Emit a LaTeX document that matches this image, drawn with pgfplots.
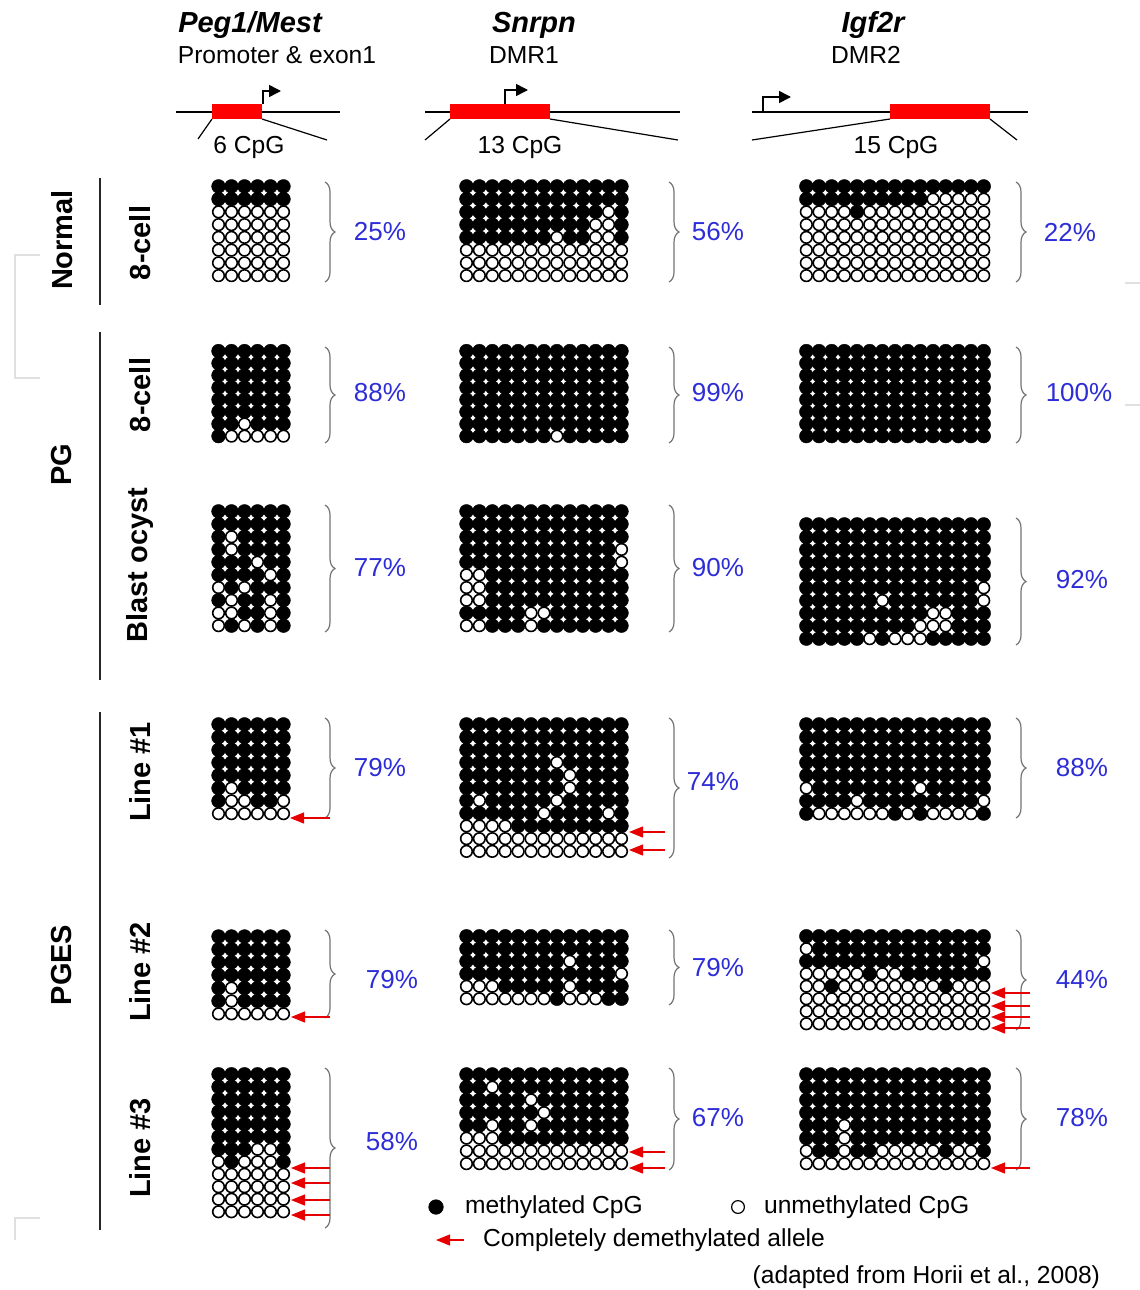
\documentclass[border=0pt]{standalone}
\usepackage{fontspec}
\setmainfont{Liberation Sans}
\usepackage{pgfplots}
\pgfplotsset{compat=1.18}
\usetikzlibrary{decorations.pathreplacing, arrows.meta}

\definecolor{pctblue}{RGB}{45,45,215}
\definecolor{arrred}{RGB}{230,0,0}

\newcount\GR \newcount\GC
\def\R#1{\global\advance\GR by 1 \global\GC=0 \Gbit#1\relax}
\def\Gbit#1{\ifx\relax#1\else\global\advance\GC by 1 \Gcell#1\expandafter\Gbit\fi}
\def\Gcell#1{\pgfmathsetmacro\GXX{\GX+(\the\GC-0.5)*\GH}\pgfmathsetmacro\GYY{\GY+(\the\GR-0.5)*\GV}\if1#1\xdef\methlist{\methlist(\GXX,\GYY)}\else\xdef\unmethlist{\unmethlist(\GXX,\GYY)}\fi}
\newcommand\grid[5]{\def\GX{#1}\def\GY{#2}\def\GH{#3}\def\GV{#4}\global\GR=0 \gdef\methlist{}\gdef\unmethlist{}#5%
  \ifx\methlist\empty\def\tmp{}\else\edef\tmp{\noexpand\addplot[meth] coordinates {\methlist};}\fi\tmp
  \ifx\unmethlist\empty\def\tmp{}\else\edef\tmp{\noexpand\addplot[unmeth] coordinates {\unmethlist};}\fi\tmp}

\pgfplotsset{
 meth/.style={only marks, mark=*, mark size=3.45pt, mark options={draw=black, fill=black, line width=0.2pt, solid}},
 unmeth/.style={only marks, mark=*, mark size=2.9pt, mark options={draw=black, fill=white, line width=0.8pt, solid}},
}
\tikzset{
 br/.style={decorate, decoration={brace, amplitude=5pt}, draw=black!55, line width=0.6pt},
 rarr/.style={draw=arrred, line width=0.6pt, -{Triangle[length=7pt,width=5.5pt]}},
 pct/.style={text=pctblue, font=\fontsize{13}{15}\selectfont},
 lab/.style={rotate=90, font=\fontsize{14.5}{17}\selectfont\bfseries},
 gn/.style={font=\fontsize{14.5}{17}\selectfont\bfseries\itshape},
 sm/.style={font=\fontsize{12.3}{14}\selectfont},
}

\begin{document}
\begin{tikzpicture}
\useasboundingbox (0,0) rectangle (570pt,645pt);
\begin{axis}[at={(0,0)}, anchor=south west, width=570pt, height=645pt, scale only axis,
  xmin=0, xmax=1140, ymin=0, ymax=1290, y dir=reverse, hide axis, clip=false]

% ---------------- Normal 8-cell
\grid{212}{180}{13}{12.75}{\R{111111}\R{111111}\R{000000}\R{000000}\R{000000}\R{000000}\R{000000}\R{000000}}
\grid{460}{180}{12.92}{12.75}{\R{1111111111111}\R{1111111111111}\R{1111111111101}\R{1111111111001}\R{1111111011001}\R{0000000000000}\R{0000000000000}\R{0000000000000}}
\grid{800}{180}{12.67}{12.75}{\R{111111111111111}\R{111111111100000}\R{000010000000000}\R{000000000000000}\R{000000000000000}\R{000000000000000}\R{000000000000000}\R{000000000000000}}
% ---------------- PG 8-cell
\grid{212}{345}{13}{12.15}{\R{111111}\R{111111}\R{111111}\R{111111}\R{111111}\R{111111}\R{110111}\R{100000}}
\grid{460}{345}{12.92}{12.15}{\R{1111111111111}\R{1111111111111}\R{1111111111111}\R{1111111111111}\R{1111111111111}\R{1111111111111}\R{1111111111111}\R{1111111011111}}
\grid{800}{345}{12.67}{12.15}{\R{111111111111111}\R{111111111111111}\R{111111111111111}\R{111111111111111}\R{111111111111111}\R{111111111111111}\R{111111111111111}\R{111111111111111}}
% ---------------- PG Blastocyst
\grid{212}{505}{13}{12.7}{\R{111111}\R{111111}\R{101111}\R{101111}\R{111011}\R{111101}\R{010111}\R{101101}\R{001101}\R{010101}}
\grid{460}{505}{12.92}{12.7}{\R{1111111111111}\R{1111111111111}\R{1111111111111}\R{1111111111110}\R{1111111111110}\R{0011111111111}\R{0011111111111}\R{0011111111111}\R{1111100111111}\R{0011101111111}}
\grid{800}{518}{12.67}{12.7}{\R{111111111111111}\R{111111111111111}\R{111111111111111}\R{111111111111111}\R{111111111111111}\R{111111111111110}\R{111111011111110}\R{111111111100111}\R{111111111000111}\R{111110100011111}}
% ---------------- Line #1
\grid{212}{718}{13}{12.75}{\R{111111}\R{111111}\R{111111}\R{111111}\R{111111}\R{101111}\R{100110}\R{000000}}
\grid{460}{718}{12.92}{12.7}{\R{1111111111111}\R{1111111111111}\R{1111111111111}\R{1111111011111}\R{1111111101111}\R{1111111101111}\R{1011111011111}\R{1111110111101}\R{0000111111111}\R{0000000000000}\R{0000000000000}}
\grid{800}{718}{12.67}{12.75}{\R{111111111111111}\R{111111111111111}\R{111111111111111}\R{111111111111111}\R{111111111111111}\R{011111111011111}\R{111101111111110}\R{100000010100001}}
% ---------------- Line #2
\grid{212}{930}{13}{12.9}{\R{111111}\R{111111}\R{111111}\R{111111}\R{101111}\R{101111}\R{000000}}
\grid{460}{930}{12.92}{12.5}{\R{1111111111111}\R{1111111111111}\R{1111111101111}\R{1111111111110}\R{0001111101111}\R{0000000100011}}
\grid{800}{930}{12.67}{12.5}{\R{111111111111111}\R{011111111111111}\R{111111111111110}\R{000001001111111}\R{001000000001000}\R{000000000000000}\R{000000000000000}\R{000000000000000}}
% ---------------- Line #3
\grid{212}{1068}{13}{12.5}{\R{111111}\R{111111}\R{111111}\R{111111}\R{111111}\R{111111}\R{111001}\R{010001}\R{000000}\R{000000}\R{000000}\R{000000}}
\grid{460}{1068}{12.92}{12.75}{\R{1111111111111}\R{1101111111111}\R{1111101111111}\R{1111110111111}\R{1101101111111}\R{0001111111111}\R{0000000000000}\R{0000000000000}}
\grid{800}{1068}{12.67}{12.75}{\R{111111111111111}\R{111111111111111}\R{111111111111111}\R{111111111111111}\R{111011111111111}\R{111011111111111}\R{011011000001001}\R{000000000000000}}

% legend marks
\addplot[only marks, mark=*, mark size=3.6pt, mark options={draw=black, fill=black}] coordinates {(436,1207)};
\addplot[only marks, mark=*, mark size=3.2pt, mark options={draw=black, fill=white, line width=0.6pt}] coordinates {(738,1207)};

% ---------------- headers
\node[gn] at (250,25) {Peg1/Mest};
\node[sm] at (277,55) {Promoter \& exon1};
\node[gn] at (534,25) {Snrpn};
\node[sm] at (524,55) {DMR1};
\node[gn] at (873,25) {Igf2r};
\node[sm] at (866,55) {DMR2};
\node[sm] at (249,147) {6 CpG};
\node[sm] at (520,147) {13 CpG};
\node[sm] at (896,147) {15 CpG};

% gene diagrams
\draw[line width=0.6pt] (176,112) -- (340,112);
\fill[red] (212,104) rectangle (262,119);
\draw[line width=0.6pt] (212,119) -- (198,139);
\draw[line width=0.6pt] (262,119) -- (327,140);
\draw[line width=0.8pt, -{Triangle[length=6pt,width=6pt]}] (263,104) -- (263,91) -- (281,91);

\draw[line width=0.6pt] (425,112) -- (680,112);
\fill[red] (450,104) rectangle (550,119);
\draw[line width=0.6pt] (450,119) -- (425,140);
\draw[line width=0.6pt] (550,119) -- (678,140);
\draw[line width=0.8pt, -{Triangle[length=6pt,width=6pt]}] (505,104) -- (505,90) -- (528,90);

\draw[line width=0.6pt] (752,112) -- (1028,112);
\draw[line width=0.8pt, -{Triangle[length=6pt,width=6pt]}] (763,112) -- (763,97) -- (791,97);
\fill[red] (890,104) rectangle (990,119);
\draw[line width=0.6pt] (890,119) -- (752,140);
\draw[line width=0.6pt] (990,119) -- (1017,140);

% ---------------- left labels
\draw[line width=1.2pt, black!85] (100,178) -- (100,305);
\draw[line width=1.2pt, black!85] (100,332) -- (100,680);
\draw[line width=1.2pt, black!85] (100,712) -- (100,1230);
\node[lab] at (62,240) {Normal};
\node[lab] at (140,243) {8-cell};
\node[lab] at (62,465) {PG};
\node[lab] at (140,395) {8-cell};
\node[lab] at (140,565) {Blast ocyst};
\node[lab] at (62,965) {PGES};
\node[lab] at (140,772) {Line \#1};
\node[lab] at (140,972) {Line \#2};
\node[lab] at (140,1148) {Line \#3};

% faint page marks
\draw[black!12, line width=0.6pt] (40,255) -- (15,255) -- (15,378) -- (40,378);
\draw[black!12, line width=0.6pt] (1125,283) -- (1140,283);
\draw[black!12, line width=0.6pt] (1125,405) -- (1140,405);
\draw[black!12, line width=0.6pt] (40,1218) -- (15,1218) -- (15,1240);

% ---------------- braces
\draw[br] (325,182) -- (325,282);
\draw[br] (669,182) -- (669,282);
\draw[br] (1016,182) -- (1016,282);
\draw[br] (325,347) -- (325,443);
\draw[br] (669,347) -- (669,443);
\draw[br] (1016,347) -- (1016,443);
\draw[br] (325,505) -- (325,632);
\draw[br] (669,505) -- (669,632);
\draw[br] (1016,518) -- (1016,645);
\draw[br] (325,718) -- (325,818);
\draw[br] (669,718) -- (669,858);
\draw[br] (1016,718) -- (1016,818);
\draw[br] (325,930) -- (325,1018);
\draw[br] (669,930) -- (669,1005);
\draw[br] (1016,930) -- (1016,1030);
\draw[br] (325,1068) -- (325,1228);
\draw[br] (669,1068) -- (669,1170);
\draw[br] (1016,1068) -- (1016,1170);

% ---------------- percentages
\node[pct] at (380,232) {25\%};
\node[pct] at (718,232) {56\%};
\node[pct] at (1070,232) {22\%};
\node[pct] at (380,393) {88\%};
\node[pct] at (718,393) {99\%};
\node[pct] at (1079,393) {100\%};
\node[pct] at (380,568) {77\%};
\node[pct] at (718,568) {90\%};
\node[pct] at (1082,580) {92\%};
\node[pct] at (380,768) {79\%};
\node[pct] at (713,782) {74\%};
\node[pct] at (1082,768) {88\%};
\node[pct] at (392,980) {79\%};
\node[pct] at (718,968) {79\%};
\node[pct] at (1082,980) {44\%};
\node[pct] at (392,1142) {58\%};
\node[pct] at (718,1118) {67\%};
\node[pct] at (1082,1118) {78\%};

% ---------------- red arrows
\draw[rarr] (330,818) -- (290,818);
\draw[rarr] (665,832) -- (629,832);
\draw[rarr] (665,850) -- (629,850);
\draw[rarr] (330,1017) -- (291,1017);
\draw[rarr] (1030,993) -- (991,993);
\draw[rarr] (1030,1006) -- (991,1006);
\draw[rarr] (1030,1017) -- (991,1017);
\draw[rarr] (1030,1028) -- (991,1028);
\draw[rarr] (330,1168) -- (291,1168);
\draw[rarr] (330,1183) -- (291,1183);
\draw[rarr] (330,1200) -- (291,1200);
\draw[rarr] (330,1215) -- (291,1215);
\draw[rarr] (665,1152) -- (629,1152);
\draw[rarr] (665,1168) -- (629,1168);
\draw[rarr] (1030,1168) -- (991,1168);

% ---------------- legend
\node[sm, anchor=west] at (458,1207) {methylated CpG};
\node[sm, anchor=west] at (757,1207) {unmethylated CpG};
\draw[rarr] (464,1240) -- (436,1240);
\node[sm, anchor=west] at (476,1240) {Completely demethylated allele};
\node[sm, anchor=east] at (1107,1277) {(adapted from Horii et al., 2008)};
\end{axis}
\end{tikzpicture}
\end{document}
